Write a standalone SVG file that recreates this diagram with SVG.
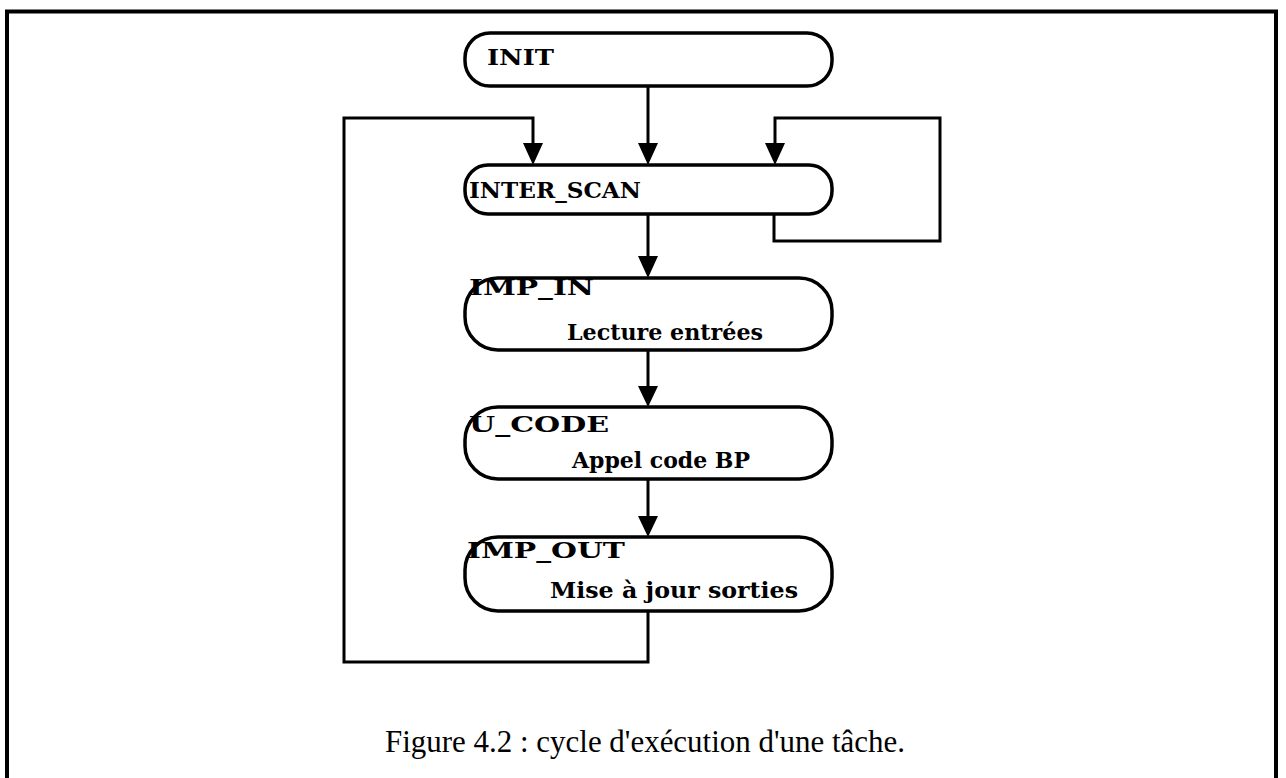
<svg xmlns="http://www.w3.org/2000/svg" width="1286" height="778" viewBox="0 0 1286 778">
<defs>
<style>
.node{fill:#fff;stroke:#000;stroke-width:3.5}
.conn{fill:none;stroke:#000;stroke-width:3}
.lbl{font-family:"DejaVu Serif","Liberation Serif",serif;font-weight:bold;font-size:23px;fill:#000}
.cap{font-family:"Liberation Serif","DejaVu Serif",serif;font-size:31px;fill:#000}
</style>
</defs>
<rect x="0" y="0" width="1286" height="778" fill="#fff"/>
<path d="M7,778 L7,11.5 L1276,11.5 L1276,778" fill="none" stroke="#000" stroke-width="4"/>
<g id="connectors">
<line class="conn" x1="648" y1="86" x2="648" y2="143"/>
<path d="M648,143 l-10,0 l10,22 l10,-22 z" fill="#000"/>
<polyline class="conn" points="648,611 648,662 344,662 344,118 533,118 533,143"/>
<path d="M533,143 l-10,0 l10,22 l10,-22 z" fill="#000"/>
<polyline class="conn" points="774,214 774,241 940,241 940,118 775,118 775,143"/>
<path d="M775,143 l-10,0 l10,22 l10,-22 z" fill="#000"/>
<line class="conn" x1="648" y1="214" x2="648" y2="256"/>
<path d="M648,256 l-10,0 l10,22 l10,-22 z" fill="#000"/>
<line class="conn" x1="648" y1="350" x2="648" y2="386"/>
<path d="M648,386 l-10,0 l10,21 l10,-21 z" fill="#000"/>
<line class="conn" x1="648" y1="479" x2="648" y2="516"/>
<path d="M648,516 l-10,0 l10,21 l10,-21 z" fill="#000"/>
</g>
<g id="INIT">
<rect class="node" x="465" y="33" width="367" height="53" rx="25" ry="25"/>
<text class="lbl" x="487" y="65" textLength="67" lengthAdjust="spacingAndGlyphs">INIT</text>
</g>
<g id="INTER_SCAN">
<rect class="node" x="465" y="165" width="367" height="49" rx="23" ry="23"/>
<text class="lbl" x="469" y="198" textLength="172" lengthAdjust="spacingAndGlyphs">INTER_SCAN</text>
</g>
<g id="IMP_IN">
<rect class="node" x="465" y="278" width="367" height="72" rx="33" ry="33"/>
<text class="lbl" x="469" y="295" textLength="125" lengthAdjust="spacingAndGlyphs">IMP_IN</text>
<text class="lbl" x="567" y="340" textLength="196" lengthAdjust="spacingAndGlyphs">Lecture entrées</text>
</g>
<g id="U_CODE">
<rect class="node" x="465" y="407" width="367" height="72" rx="33" ry="33"/>
<text class="lbl" x="469" y="432" textLength="140" lengthAdjust="spacingAndGlyphs">U_CODE</text>
<text class="lbl" x="572" y="468" textLength="178" lengthAdjust="spacingAndGlyphs">Appel code BP</text>
</g>
<g id="IMP_OUT">
<rect class="node" x="465" y="537" width="367" height="74" rx="33" ry="33"/>
<text class="lbl" x="467" y="558" textLength="158" lengthAdjust="spacingAndGlyphs">IMP_OUT</text>
<text class="lbl" x="550" y="598" textLength="248" lengthAdjust="spacingAndGlyphs">Mise à jour sorties</text>
</g>
<text class="cap" x="385" y="752" textLength="520" lengthAdjust="spacingAndGlyphs">Figure 4.2 : cycle d'exécution d'une tâche.</text>
</svg>
